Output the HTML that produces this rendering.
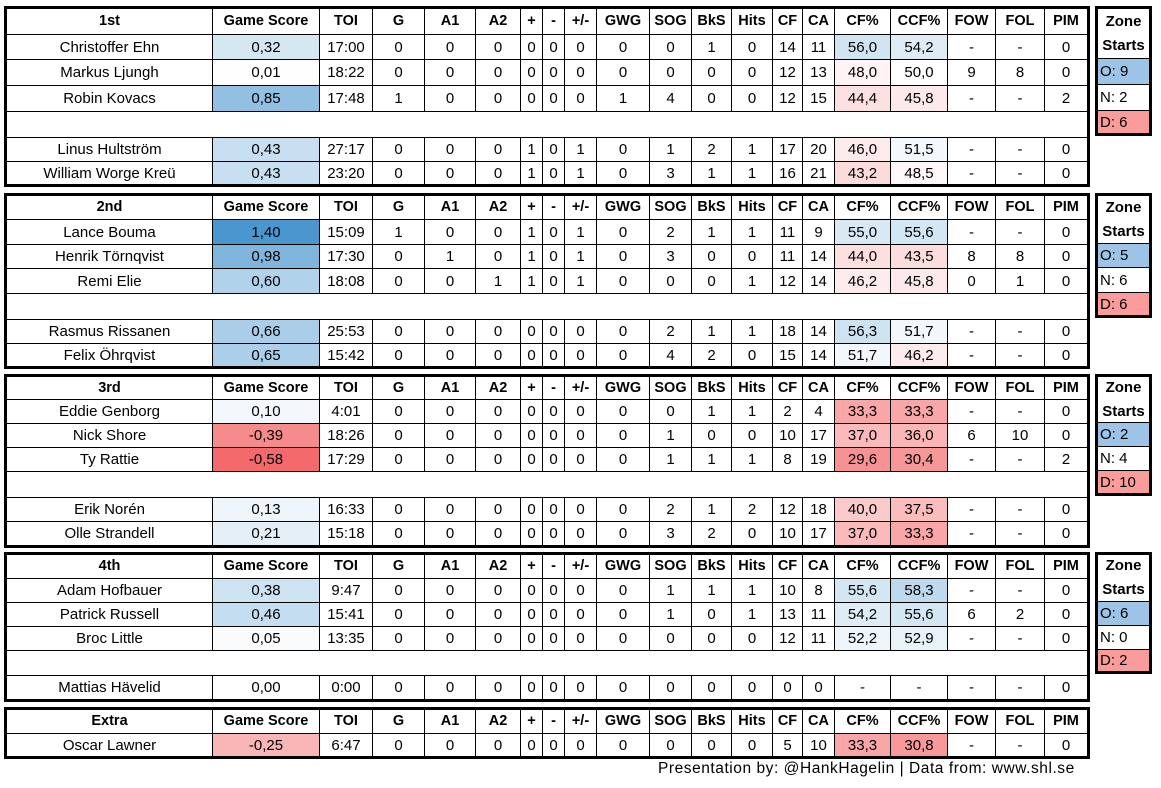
<!DOCTYPE html>
<html><head><meta charset="utf-8">
<style>
body{margin:0;width:1161px;height:788px;background:#fff;position:relative;overflow:hidden;font-family:"Liberation Sans",sans-serif;font-size:15px;color:#000}
table{position:absolute;left:4px;border-collapse:collapse;table-layout:fixed;width:1083px;border:3px solid #000}
td{border:1px solid #000;text-align:center;padding:0;white-space:nowrap;overflow:hidden;line-height:15px}
tr.h td{font-weight:bold;font-size:14.5px}
.z{position:absolute;left:1095px;width:51px;border:3px solid #000;font-size:15px}
.z div{border-top:1px solid #000;padding-left:2px;box-sizing:border-box;line-height:15px;display:flex;align-items:center}
.z .t{border-top:none;font-weight:bold;text-align:center;justify-content:center;flex-direction:column;padding:0}
.foot{position:absolute;left:658px;top:760px;font-size:15.5px;letter-spacing:0.55px;white-space:nowrap}
</style></head><body>
<div id="root"></div>
<div class="foot">Presentation by: @HankHagelin | Data from: www.shl.se</div>
<script>
var W=[207,107,53,52,51,45,22,22,32,53,42,40,41,30,32,56,57,48,49,44];
var H=["Game Score","TOI","G","A1","A2","+","-","+/-","GWG","SOG","BkS","Hits","CF","CA","CF%","CCF%","FOW","FOL","PIM"];
var S=[
{n:"1st",y:[6,33,58,84,110,136,160,184],z:[9,2,6],r:[
["Christoffer Ehn","0,32","17:00",0,0,0,0,0,0,0,0,1,0,14,11,"56,0","54,2","-","-",0],
["Markus Ljungh","0,01","18:22",0,0,0,0,0,0,0,0,0,0,12,13,"48,0","50,0",9,8,0],
["Robin Kovacs","0,85","17:48",1,0,0,0,0,0,1,4,0,0,12,15,"44,4","45,8","-","-",2],
null,
["Linus Hultström","0,43","27:17",0,0,0,1,0,1,0,1,2,1,17,20,"46,0","51,5","-","-",0],
["William Worge Kreü","0,43","23:20",0,0,0,1,0,1,0,3,1,1,16,21,"43,2","48,5","-","-",0]]},
{n:"2nd",y:[193,218,243,267,292,318,342,366],z:[5,6,6],r:[
["Lance Bouma","1,40","15:09",1,0,0,1,0,1,0,2,1,1,11,9,"55,0","55,6","-","-",0],
["Henrik Törnqvist","0,98","17:30",0,1,0,1,0,1,0,3,0,0,11,14,"44,0","43,5",8,8,0],
["Remi Elie","0,60","18:08",0,0,1,1,0,1,0,0,0,1,12,14,"46,2","45,8",0,1,0],
null,
["Rasmus Rissanen","0,66","25:53",0,0,0,0,0,0,0,2,1,1,18,14,"56,3","51,7","-","-",0],
["Felix Öhrqvist","0,65","15:42",0,0,0,0,0,0,0,4,2,0,15,14,"51,7","46,2","-","-",0]]},
{n:"3rd",y:[374,398,422,446,470,496,520,545],z:[2,4,10],r:[
["Eddie Genborg","0,10","4:01",0,0,0,0,0,0,0,0,1,1,2,4,"33,3","33,3","-","-",0],
["Nick Shore","-0,39","18:26",0,0,0,0,0,0,0,1,0,0,10,17,"37,0","36,0",6,10,0],
["Ty Rattie","-0,58","17:29",0,0,0,0,0,0,0,1,1,1,8,19,"29,6","30,4","-","-",2],
null,
["Erik Norén","0,13","16:33",0,0,0,0,0,0,0,2,1,2,12,18,"40,0","37,5","-","-",0],
["Olle Strandell","0,21","15:18",0,0,0,0,0,0,0,3,2,0,10,17,"37,0","33,3","-","-",0]]},
{n:"4th",y:[552,577,601,625,649,674,699],z:[6,0,2],r:[
["Adam Hofbauer","0,38","9:47",0,0,0,0,0,0,0,1,1,1,10,8,"55,6","58,3","-","-",0],
["Patrick Russell","0,46","15:41",0,0,0,0,0,0,0,1,0,1,13,11,"54,2","55,6",6,2,0],
["Broc Little","0,05","13:35",0,0,0,0,0,0,0,0,0,0,12,11,"52,2","52,9","-","-",0],
null,
["Mattias Hävelid","0,00","0:00",0,0,0,0,0,0,0,0,0,0,0,0,"-","-","-","-",0]]},
{n:"Extra",y:[707,732,756],z:null,r:[
["Oscar Lawner","-0,25","6:47",0,0,0,0,0,0,0,0,0,0,5,10,"33,3","30,8","-","-",0]]}
];
function mix(t,c){t=Math.max(0,Math.min(1,t));return "rgb("+c.map(function(v){return Math.round(255-(255-v)*t)}).join(",")+")";}
var B=[74,151,208],R=[244,106,108];
function gs(s){var v=parseFloat(s.replace(",","."));return v>=0?mix(v/1.4,B):mix(-v/0.5,R);}
function cf(s){if(s=="-")return "";var d=parseFloat(s.replace(",","."))-50;return d>=0?mix(d/23,B):mix(-d/28,R);}
var html="";
S.forEach(function(s){
 var y=s.y;
 html+='<table style="top:'+y[0]+'px;height:'+(y[y.length-1]-y[0])+'px"><colgroup>'+W.map(function(w){return '<col style="width:'+w+'px">'}).join("")+'</colgroup>';
 html+='<tr class="h" style="height:'+(y[1]-y[0])+'px"><td>'+s.n+'</td>'+H.map(function(h){return '<td>'+h+'</td>'}).join("")+'</tr>';
 s.r.forEach(function(r,i){
  var hh=y[i+2]-y[i+1];
  if(!r){html+='<tr style="height:'+hh+'px"><td colspan="20"></td></tr>';return;}
  html+='<tr style="height:'+hh+'px">'+r.map(function(c,j){
   var st="";
   if(j==1)st=' style="background:'+gs(c)+'"';
   if(j==15||j==16){var b=cf(c);if(b)st=' style="background:'+b+'"';}
   return '<td'+st+'>'+c+'</td>';}).join("")+'</tr>';
 });
 html+='</table>';
 if(s.z){
  var t=y[0];
  html+='<div class="z" style="top:'+t+'px"><div class="t" style="height:'+(y[2]-y[0]-3)+'px"><span style="line-height:24px">Zone</span><span style="line-height:24px">Starts</span></div>'+
  '<div style="height:'+(y[3]-y[2])+'px;background:#9dc3e6">O: '+s.z[0]+'</div>'+
  '<div style="height:'+(y[4]-y[3])+'px">N: '+s.z[1]+'</div>'+
  '<div style="height:'+(y[5]-y[4]-3)+'px;background:#fb9c9c">D: '+s.z[2]+'</div></div>';
 }
});
document.getElementById("root").innerHTML=html;
</script>
</body></html>
